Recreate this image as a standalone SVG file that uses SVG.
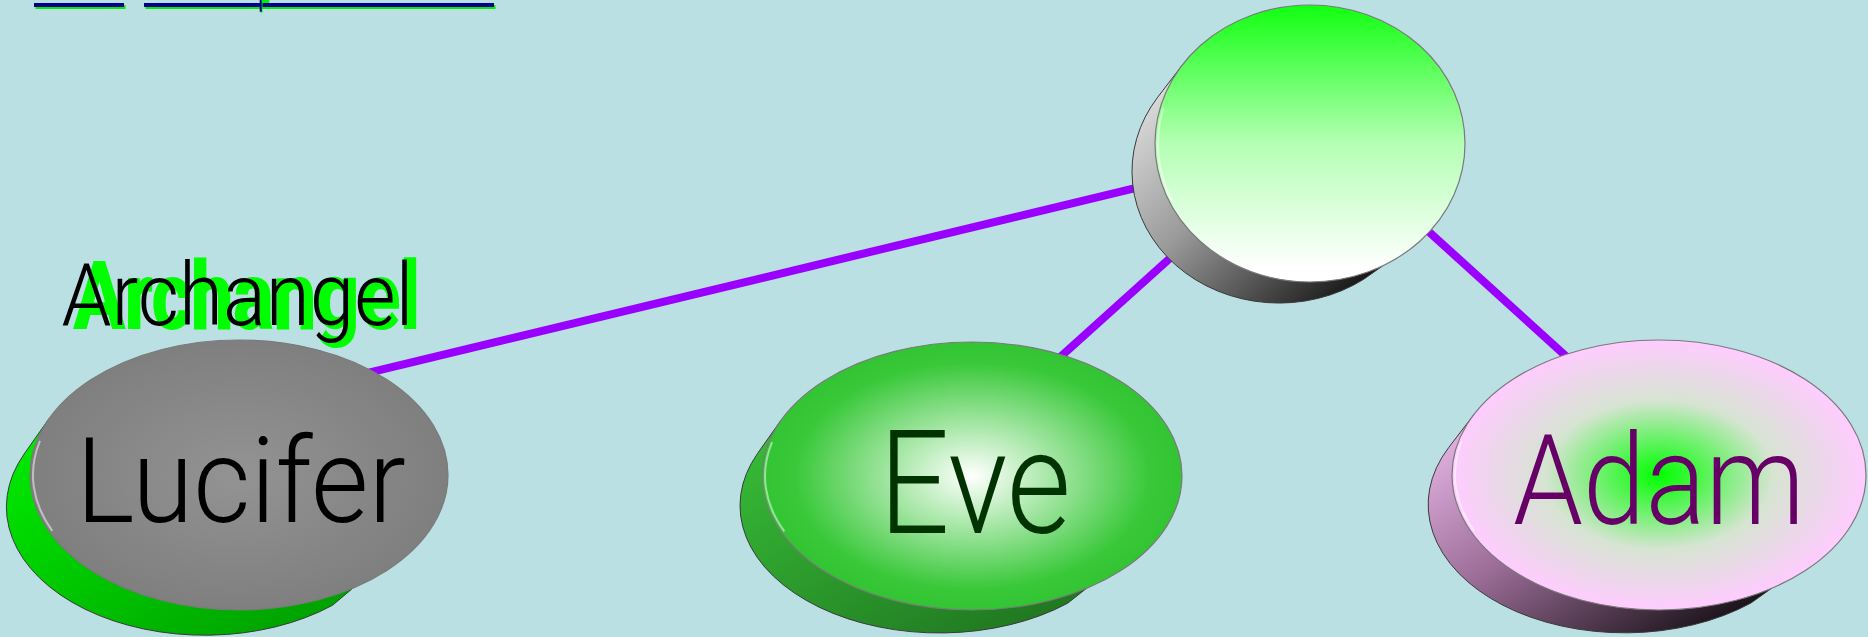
<svg xmlns="http://www.w3.org/2000/svg" width="1868" height="637" viewBox="0 0 1868 637">
<style>
.face{stroke:#7a7a7a;stroke-width:1.2}
.side{stroke:#3a3a3a;stroke-width:1}
.rim{fill:none;stroke:#ffffff;stroke-opacity:0.5;stroke-width:2}
.edge{stroke:#9900ff;stroke-width:8;fill:none}
.lbl{font-family:Roboto,"Open Sans","Liberation Sans",sans-serif;font-weight:300;text-anchor:middle}
.ul{fill:#000090}
.uls{fill:#00ee00}
</style>
<defs>
<radialGradient id="gLuc"><stop offset="0" stop-color="#939393"/><stop offset="1" stop-color="#7f7f7f"/></radialGradient>
<radialGradient id="gEve"><stop offset="0" stop-color="#ffffff"/><stop offset="0.85" stop-color="#38c838"/><stop offset="1" stop-color="#33c433"/></radialGradient>
<radialGradient id="gAdam"><stop offset="0" stop-color="#00ff00"/><stop offset="0.55" stop-color="#d6e4d2"/><stop offset="1" stop-color="#ffccff"/></radialGradient>
<linearGradient id="gTop" x1="0" y1="0" x2="0" y2="1"><stop offset="0" stop-color="#11ff11"/><stop offset="0.5" stop-color="#b4ffb4"/><stop offset="0.95" stop-color="#ffffff"/></linearGradient>
<linearGradient id="sLuc" x1="0" y1="0" x2="1" y2="1"><stop offset="0" stop-color="#00f000"/><stop offset="1" stop-color="#009a00"/></linearGradient>
<linearGradient id="sEve" x1="0" y1="0" x2="1" y2="1"><stop offset="0" stop-color="#38c038"/><stop offset="1" stop-color="#1e701e"/></linearGradient>
<linearGradient id="sTop" x1="0" y1="0" x2="1" y2="1"><stop offset="0" stop-color="#eeeeee"/><stop offset="0.45" stop-color="#9a9a9a"/><stop offset="1" stop-color="#000000"/></linearGradient>
<linearGradient id="sAdam" x1="0" y1="0" x2="1" y2="1"><stop offset="0" stop-color="#f0c0f0"/><stop offset="0.45" stop-color="#9a6c96"/><stop offset="1" stop-color="#000000"/></linearGradient>
</defs>
<rect width="1868" height="637" fill="#bae0e3"/>
<g id="fragments">
<rect class="uls" x="35.5" y="5" width="90" height="4"/>
<rect class="ul" x="34" y="3" width="90" height="4"/>
<rect class="uls" x="145.5" y="5" width="350" height="4"/>
<rect class="ul" x="144" y="3" width="350" height="4"/>
<rect class="uls" x="262" y="0" width="7.3" height="3"/>
<rect class="uls" x="260.5" y="1" width="2" height="11.5"/>
<rect class="ul" x="259.7" y="0" width="2" height="11.7"/>
</g>
<g id="connectors">
<line class="edge" x1="239" y1="404" x2="1310" y2="146"/>
<line class="edge" x1="1298" y1="143" x2="928" y2="476"/>
<line class="edge" x1="1331" y1="143" x2="1697" y2="475"/>
</g>
<g id="node-top">
<path class="side" fill="url(#sTop)" d="M1182 65.4 L1157.7 97.2 A147.25 131.575 0 0 0 1363.8 279.2 L1382.8 265.8 Z"/>
<ellipse class="face" cx="1310" cy="143.5" rx="155" ry="138.5" fill="url(#gTop)"/>
<path class="rim" d="M1163.2 108.4 A152 135.5 0 0 0 1172.2 200.8"/>
</g>
<g id="node-lucifer">
<path class="side" fill="url(#sLuc)" d="M48.7 419.1 L24.2 453.9 A198.55 128.25 0 0 0 332.6 605.2 L352.8 588.2 Z"/>
<ellipse class="face" cx="239" cy="475" rx="209" ry="135" fill="url(#gLuc)"/>
<path class="rim" d="M40 440.8 A206 132 0 0 0 52.3 530.8"/>
<text class="lbl" x="241" y="522" font-size="119" fill="#000000" textLength="330" lengthAdjust="spacingAndGlyphs">Lucifer</text>
</g>
<g id="label-archangel">
<text x="247" y="328" font-family="Roboto,'Liberation Sans',sans-serif" font-weight="700" font-size="92" text-anchor="middle" fill="#00ff00" stroke="#00ff00" stroke-width="2" textLength="346" lengthAdjust="spacingAndGlyphs">Archangel</text>
<text x="237.5" y="325" font-family="Roboto,'Liberation Sans',sans-serif" font-weight="300" font-size="87" text-anchor="middle" fill="#000000" textLength="352" lengthAdjust="spacingAndGlyphs">Archangel</text>
</g>
<g id="node-eve">
<path class="side" fill="url(#sEve)" d="M780.5 420.9 L757.6 453.4 A199.5 127.3 0 0 0 1067.7 603.2 L1086.4 588.4 Z"/>
<ellipse class="face" cx="972" cy="476" rx="210" ry="134" fill="url(#gEve)"/>
<path class="rim" d="M772.1 442.1 A207 131 0 0 0 784.4 531.4"/>
<text class="lbl" x="975" y="533" font-size="144" fill="#003300" textLength="192" lengthAdjust="spacingAndGlyphs">Eve</text>
</g>
<g id="node-adam">
<path class="side" fill="url(#sAdam)" d="M1473.8 414.7 L1448.8 447.4 A196.65 128.25 0 0 0 1751.1 602.9 L1771.7 588.2 Z"/>
<ellipse class="face" cx="1659" cy="475" rx="207" ry="135" fill="url(#gAdam)"/>
<path class="rim" d="M1462 440.8 A204 132 0 0 0 1474.1 530.8"/>
<text class="lbl" x="1659" y="524" font-size="127" fill="#660066" textLength="292" lengthAdjust="spacingAndGlyphs">Adam</text>
</g>
</svg>
